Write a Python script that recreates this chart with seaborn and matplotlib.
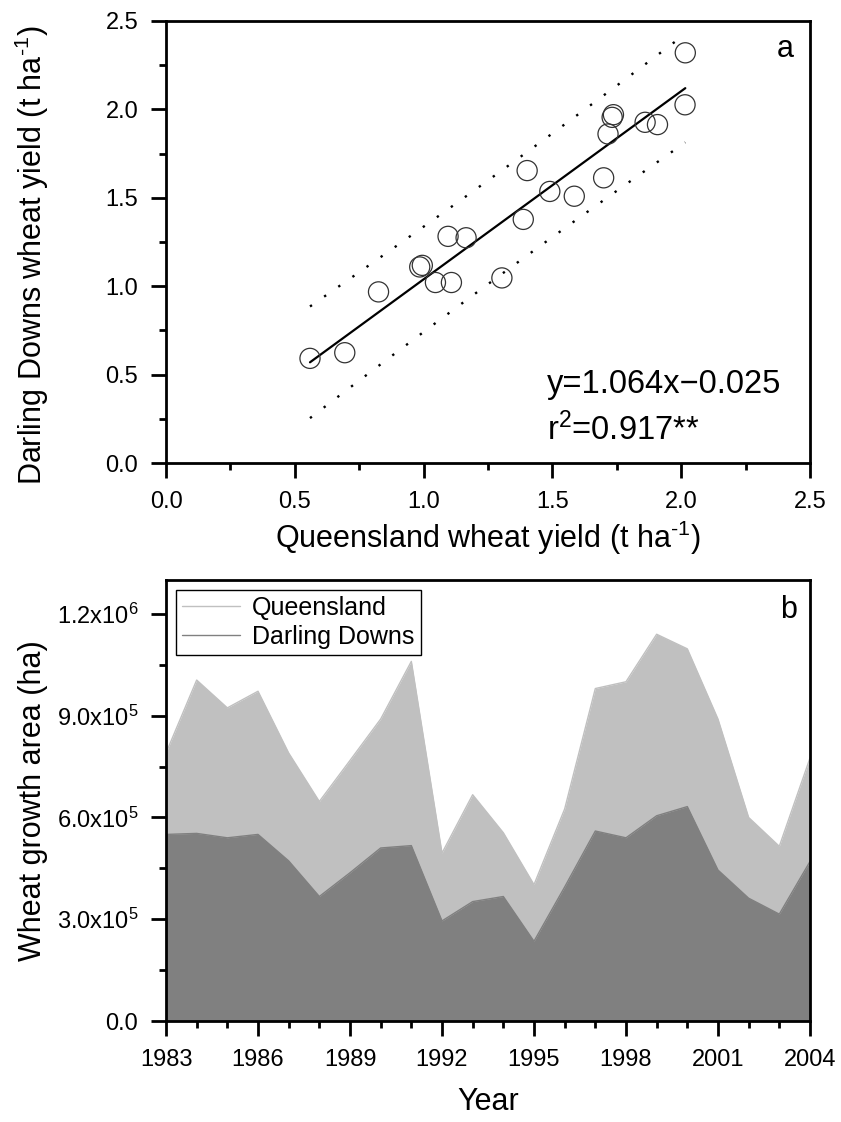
import numpy as np
import pandas as pd
import matplotlib
matplotlib.use("Agg")
import matplotlib.pyplot as plt
import seaborn as sns
from matplotlib.ticker import MultipleLocator, FuncFormatter

# Annual wheat yields (t/ha), 1983-2004
years = list(range(1983, 2005))
qld_yield = [0.559, 0.694, 0.825, 0.985, 0.995, 1.046, 1.108, 1.095, 1.165, 1.304, 1.387,
             1.402, 1.490, 1.585, 1.699, 1.716, 1.732, 1.737, 1.860, 1.908, 2.015, 2.016]
dd_yield = [0.592, 0.624, 0.968, 1.109, 1.118, 1.021, 1.021, 1.282, 1.274, 1.047, 1.378,
            1.654, 1.536, 1.509, 1.613, 1.861, 1.955, 1.970, 1.927, 1.914, 2.026, 2.320]

# Regression reported for Darling Downs vs Queensland yield
fit_slope = 1.064
fit_intercept = -0.025
fit_r2 = "0.917"

# Wheat growing area (ha)
qld_area = [790000, 1005000, 923000, 972000, 790000, 647000, 768000, 890000, 1060000, 495000, 667000,
            555000, 402000, 625000, 980000, 1000000, 1140000, 1097000, 890000, 600000, 515000, 775000]
dd_area = [550000, 553000, 540000, 550000, 472000, 367000, 437000, 510000, 517000, 295000, 352000,
           367000, 235000, 395000, 560000, 540000, 605000, 632000, 445000, 362000, 315000, 470000]

yield_df = pd.DataFrame({"qld": qld_yield, "dd": dd_yield})
area_df = pd.DataFrame({"year": years, "Queensland": qld_area, "Darling Downs": dd_area})

sns.set_style("ticks")
plt.rcParams.update({
    "font.family": ["Liberation Sans", "DejaVu Sans"],
    "mathtext.fontset": "custom",
    "mathtext.rm": "Liberation Sans",
    "mathtext.it": "Liberation Sans:italic",
    "mathtext.bf": "Liberation Sans:bold",
    "text.color": "black",
    "axes.labelcolor": "black",
    "axes.linewidth": 2.0,
    "axes.edgecolor": "black",
    "xtick.direction": "out",
    "ytick.direction": "out",
    "xtick.major.size": 11,
    "ytick.major.size": 11,
    "xtick.minor.size": 5,
    "ytick.minor.size": 5,
    "xtick.major.width": 2.0,
    "ytick.major.width": 2.0,
    "xtick.minor.width": 2.0,
    "ytick.minor.width": 2.0,
    "xtick.major.pad": 9,
    "ytick.major.pad": 9,
    "xtick.labelsize": 17,
    "ytick.labelsize": 17,
    "xtick.color": "black",
    "ytick.color": "black",
})

fig = plt.figure(figsize=(8.41, 11.22), dpi=100)
ax1 = fig.add_axes([0.1974, 0.5873, 0.7657, 0.3940])
ax2 = fig.add_axes([0.1974, 0.0900, 0.7657, 0.3931])

# ---- Panel a: yield relationship ----
x = np.asarray(qld_yield)
y = np.asarray(dd_yield)
n = len(x)
xs = np.linspace(x.min(), x.max(), 200)
fit = fit_slope * xs + fit_intercept
resid = y - (fit_slope * x + fit_intercept)
s = np.sqrt(np.sum(resid ** 2) / (n - 2))
t_crit = 2.086  # two-sided 95 %, 20 d.f.
half = t_crit * s * np.sqrt(1 + 1 / n + (xs - x.mean()) ** 2 / np.sum((x - x.mean()) ** 2))

sns.scatterplot(data=yield_df, x="qld", y="dd", ax=ax1, marker="o", s=210,
                facecolor="none", edgecolor="#333333", linewidth=0.9, zorder=3)
ax1.plot(xs, fit, color="black", lw=1.6, zorder=2)
for band in (fit + half, fit - half):
    ax1.plot(xs, band, color="black", lw=1.7, linestyle=(0, (1, 6.3)), zorder=2)

ax1.set_xlim(0, 2.5)
ax1.set_ylim(0, 2.5)
ax1.xaxis.set_major_locator(MultipleLocator(0.5))
ax1.xaxis.set_minor_locator(MultipleLocator(0.25))
ax1.yaxis.set_major_locator(MultipleLocator(0.5))
ax1.yaxis.set_minor_locator(MultipleLocator(0.25))
ax1.xaxis.set_major_formatter(FuncFormatter(lambda v, p: f"{v:.1f}"))
ax1.yaxis.set_major_formatter(FuncFormatter(lambda v, p: f"{v:.1f}"))
ax1.set_xlabel("Queensland wheat yield (t ha$^{\\text{-1}}$)", fontsize=22, labelpad=4)
ax1.set_ylabel("Darling Downs wheat yield (t ha$^{\\text{-1}}$)", fontsize=22)
ax1.yaxis.set_label_coords(-0.178, 0.47)
ax1.text(0.592, 0.158, f"y={fit_slope:.3f}x\u2212{abs(fit_intercept):.3f}", transform=ax1.transAxes,
         fontsize=23.5, ha="left", va="baseline")
ax1.text(0.592, 0.052, f"r$^{{\\mathregular{{2}}}}$={fit_r2}**", transform=ax1.transAxes,
         fontsize=23.5, ha="left", va="baseline")
ax1.text(0.975, 0.918, "a", transform=ax1.transAxes, fontsize=22, ha="right", va="baseline")

# ---- Panel b: growing area ----
palette = {"Queensland": "#c0c0c0", "Darling Downs": "#808080"}
for region in ["Queensland", "Darling Downs"]:
    sns.lineplot(data=area_df, x="year", y=region, ax=ax2, color=palette[region],
                 lw=1.0, label=region, zorder=2)
    ax2.fill_between(area_df["year"], 0, area_df[region], color=palette[region],
                     linewidth=0, zorder=1)

ax2.set_xlim(1983, 2004)
ax2.set_ylim(0, 1.3e6)
ax2.xaxis.set_major_locator(MultipleLocator(3))
ax2.xaxis.set_minor_locator(MultipleLocator(1))
ax2.yaxis.set_major_locator(MultipleLocator(3e5))
ax2.yaxis.set_minor_locator(MultipleLocator(1.5e5))


def sci_fmt(v, p):
    if v <= 0:
        return "0.0" if abs(v) < 1e-9 else ""
    exp = int(np.floor(np.log10(v)))
    return f"{v / 10 ** exp:.1f}x10$^{{\\mathregular{{{exp}}}}}$"


ax2.yaxis.set_major_formatter(FuncFormatter(sci_fmt))
ax2.xaxis.set_major_formatter(FuncFormatter(lambda v, p: f"{int(round(v))}"))
ax2.set_xlabel("Year", fontsize=22, labelpad=12)
ax2.set_ylabel("Wheat growth area (ha)", fontsize=22, labelpad=6)
ax2.text(0.98, 0.914, "b", transform=ax2.transAxes, fontsize=22, ha="right", va="baseline")

leg = ax2.legend(loc="upper left", fontsize=18, frameon=True, fancybox=False,
                 edgecolor="black", framealpha=1, handlelength=2.3, handletextpad=0.5,
                 borderaxespad=0.4, borderpad=0.25, labelspacing=0.2)
leg.get_frame().set_linewidth(1.0)

for ax in (ax1, ax2):
    for sp in ax.spines.values():
        sp.set_visible(True)
        sp.set_linewidth(2.0)
    ax.tick_params(which="both", top=False, right=False)

fig.savefig("out.png", dpi=100)
